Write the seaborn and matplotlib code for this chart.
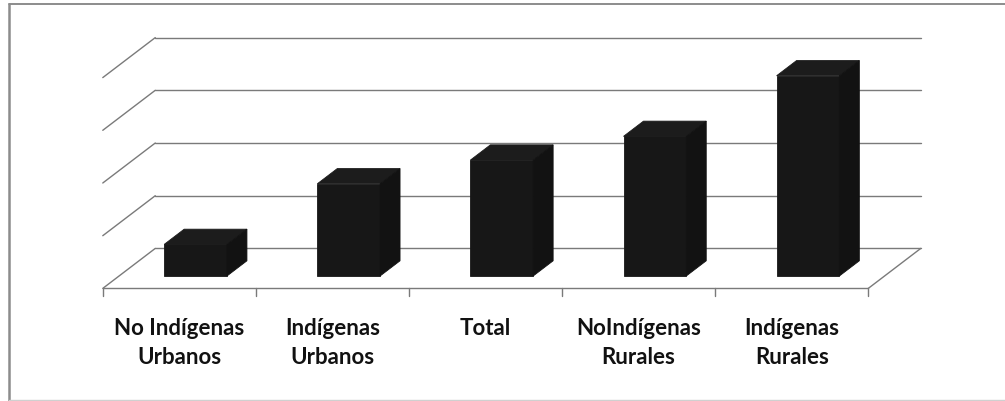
import pandas as pd
import matplotlib
matplotlib.use("Agg")
import matplotlib.pyplot as plt
import seaborn as sns
from matplotlib.patches import Polygon
from matplotlib.lines import Line2D

# data
categories = ["No Indígenas\nUrbanos", "Indígenas\nUrbanos", "Total",
              "NoIndígenas\nRurales", "Indígenas\nRurales"]
values = [0.6, 1.75, 2.2, 2.65, 3.8]
grid_values = [0, 1, 2, 3, 4]

df = pd.DataFrame({"grupo": categories, "valor": values})

sns.set_theme(style="white")
plt.rcParams["font.family"] = ["Lato", "DejaVu Sans"]

fig = plt.figure(figsize=(10.05, 4.02), dpi=100)
ax = fig.add_axes([0, 0, 1, 1])

# pseudo-3D depth (data units): full floor depth and bar slab inside it
DX, DY = 52.5 / 153.1, 40 / 52.7
F0, F1 = 0.31, 0.69   # bar front / back as fraction of floor depth


def proj(x, v, f):
    return x + (f - F0) * DX, v + (f - F0) * DY


grid_col = "#7a7a7a"
lw = 1.0
n = len(categories)
left, right = -0.5, n - 0.5

# back wall + left wall gridlines
for g in grid_values:
    xa, ya = proj(left, g, 1)
    xb, yb = proj(right, g, 1)
    ax.plot([xa, xb], [ya, yb], color=grid_col, lw=lw, zorder=1)
    xc, yc = proj(left, g, 0)
    ax.plot([xc, xa], [yc, ya], color=grid_col, lw=lw, zorder=1)

# floor front and right edges
xa, ya = proj(left, 0, 0)
xb, yb = proj(right, 0, 0)
ax.plot([xa, xb], [ya, yb], color=grid_col, lw=lw, zorder=1)
xc, yc = proj(right, 0, 1)
ax.plot([xb, xc], [yb, yc], color=grid_col, lw=lw, zorder=1)

# tick marks on the floor front edge
for k in range(n + 1):
    xt, yt = proj(left + k, 0, 0)
    ax.plot([xt, xt], [yt, yt - 0.15], color=grid_col, lw=lw, zorder=1)

# front faces
front_col, top_col, side_col = "#171717", "#1c1c1c", "#121212"
sns.barplot(data=df, x="grupo", y="valor", color=front_col, saturation=1,
            width=0.41, ax=ax, zorder=3)

for p in ax.patches:
    x0 = p.get_x()
    x1 = x0 + p.get_width()
    h = p.get_height()
    p.set_edgecolor(front_col)
    p.set_linewidth(0.6)
    # top face
    top = [(x0, h), (x1, h), proj(x1, h, F1), proj(x0, h, F1)]
    ax.add_patch(Polygon(top, closed=True, facecolor=top_col,
                         edgecolor=top_col, lw=0.6, zorder=3))
    # side face
    side = [(x1, 0), proj(x1, 0, F1), proj(x1, h, F1), (x1, h)]
    ax.add_patch(Polygon(side, closed=True, facecolor=side_col,
                         edgecolor=side_col, lw=0.6, zorder=3))

# category labels under each category
for i, name in enumerate(categories):
    xl, _ = proj(i, 0, 0)
    ax.text(xl, 1 - 318 / 402, name, transform=ax.get_xaxis_transform(),
            ha="center", va="top", fontsize=16, fontweight="bold",
            color="#111111", linespacing=1.5)

ax.set_xlim(-195.6 / 153.1, (1005 - 195.6) / 153.1)
ax.set_ylim((277 - 402) / 52.7, 277 / 52.7)
ax.set_axis_off()

# outer frame of the chart area (scan shows top / left / bottom)
border = "#8c8c8c"
fig.add_artist(Line2D([9 / 1005, 1], [1 - 5 / 402, 1 - 5 / 402],
                      transform=fig.transFigure, color=border, lw=1.4))
fig.add_artist(Line2D([9 / 1005, 9 / 1005], [0, 1 - 5 / 402],
                      transform=fig.transFigure, color=border, lw=1.8))
fig.add_artist(Line2D([9 / 1005, 1], [1.2 / 402, 1.2 / 402],
                      transform=fig.transFigure, color="#d0d0d0", lw=1.0))

fig.savefig("out.png", dpi=100, facecolor="white")
